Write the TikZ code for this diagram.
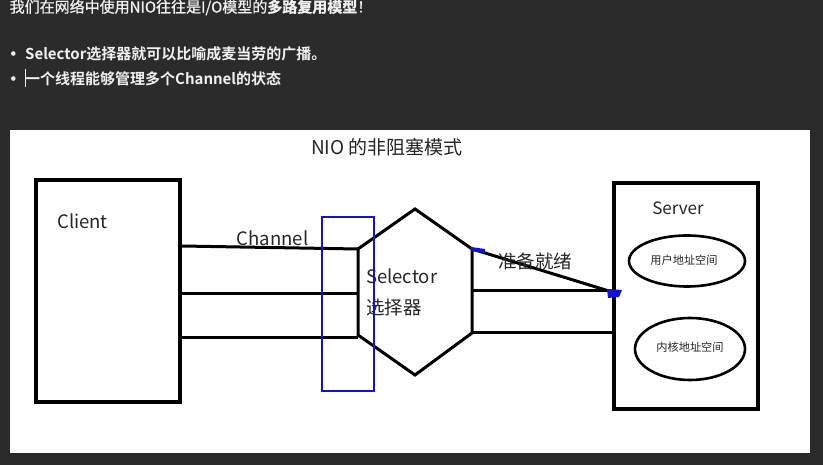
\documentclass[tikz,border=0pt]{standalone}
\usepackage{fontspec}
\setmainfont{Noto Sans CJK SC}[BoldFont={Noto Sans CJK SC Bold}]
\newfontfamily\medfont{Noto Sans CJK SC}[FakeBold=0.9, BoldFont={Noto Sans CJK SC Bold}]
\usetikzlibrary{shapes.geometric}
\definecolor{bgdark}{HTML}{2B2B2B}
\definecolor{hdtext}{HTML}{F0F0F0}
\definecolor{penblue}{HTML}{1212D6}
\tikzset{
  hdline/.style={anchor=west, text=hdtext, font=\fontsize{15}{16}\selectfont, inner sep=0pt},
  box/.style={draw=black, line width=3.2pt, fill=white},
  pen/.style={draw=black, line width=3pt},
  lbl/.style={inner sep=0pt, text=black!85, font=\fontsize{18.5}{20}\selectfont},
  small/.style={inner sep=0pt, text=black!85, font=\fontsize{11.2}{13}\selectfont},
  oval/.style={draw=black, line width=2.6pt, ellipse},
}
\begin{document}
\begin{tikzpicture}[x=1pt,y=-1pt]
\useasboundingbox (0,0) rectangle (823,465);
\fill[bgdark] (0,0) rectangle (823,465);
% header
\node[hdline] (h1) at (9.5,7.5) {\medfont 我们在网络中使用NIO往往是I/O模型的\textbf{多路复用模型}！};
\fill[hdtext] (13.3,53.5) circle (2.3);
\node[hdline] (h2) at (25,53.5) {\textbf{Selector选择器就可以比喻成麦当劳的广播。}};
\fill[hdtext] (13.3,78.5) circle (2.3);
\node[hdline] (h3) at (25,78.5) {\textbf{一个线程能够管理多个Channel的状态}};
\draw[hdtext, line width=0.8pt] (25.8,69.5) -- (25.8,87.5);
% panel
\fill[white] (10,130) rectangle (810,453);
\node[lbl, font=\fontsize{19}{21}\selectfont] (title) at (387,147) {NIO 的非阻塞模式};
% client and server
\node[box, minimum width=144pt, minimum height=222pt, inner sep=0pt] (client) at (108,291) {};
\node[lbl, anchor=west] (clientlbl) at (57,221) {Client};
\node[box, line width=3.6pt, minimum width=144pt, minimum height=226pt, inner sep=0pt] (server) at (686,296) {};
\node[lbl, font=\fontsize{17}{19}\selectfont] (serverlbl) at (678,208) {Server};
\node[oval, minimum width=116pt, minimum height=51pt] (user) at (687,261) {};
\node[small] (userlbl) at (684,260) {用户地址空间};
\node[oval, minimum width=110pt, minimum height=62pt] (kernel) at (690,349) {};
\node[small] (kernellbl) at (690,347) {内核地址空间};
% selector hexagon
\coordinate (hT) at (415,209);
\coordinate (hUL) at (358,249);
\coordinate (hLL) at (358,335);
\coordinate (hB) at (415,375);
\coordinate (hLR) at (472,333);
\coordinate (hUR) at (472,249);
\draw[pen, line join=miter] (hT) -- (hUR) -- (hLR) -- (hB) -- (hLL) -- (hUL) -- cycle;
\node[lbl, anchor=west] (sel) at (366,276) {Selector};
\node[lbl, anchor=west] (selcn) at (366,307) {选择器};
% channels
\coordinate (c1) at (client.east |- 0,246);
\coordinate (c2) at (client.east |- 0,294);
\coordinate (c3) at (client.east |- 0,338);
\draw[pen] (c1) -- (hUL);
\draw[pen] (c2) -- (hLL |- c2);
\draw[pen] (c3) -- (hLL |- c3);
\node[lbl, anchor=south] (chan) at (272.5,246) {Channel};
% blue channel frame
\draw[penblue, line width=2.4pt] (322,217) rectangle (374,391);
% right side
\coordinate (s1) at (server.west |- 0,291);
\coordinate (s2) at (server.west |- 0,333);
\coordinate (s0) at (server.west |- 0,292);
\draw[pen] (hUR |- s1) -- (s1);
\draw[pen] (hLR) -- (s2);
\draw[pen] (hUR) -- (s0);
\draw[penblue, line width=4pt] (471,249) -- (485,251);
\fill[penblue] (607,289) -- (622,290) -- (619,297) -- (608,298) -- cycle;
\node[lbl] (ready) at (535,261) {准备就绪};
\end{tikzpicture}
\end{document}
